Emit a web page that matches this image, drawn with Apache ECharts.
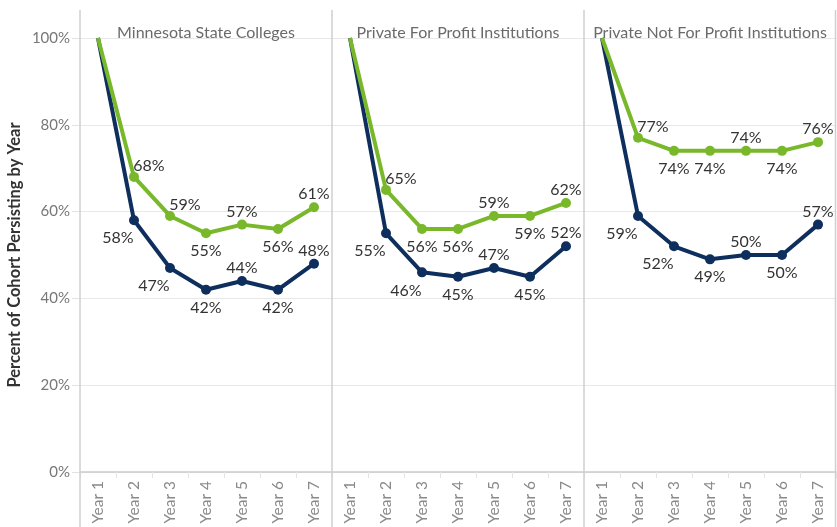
<!DOCTYPE html>
<html>
<head>
<meta charset="utf-8">
<script src="https://cdn.jsdelivr.net/npm/echarts@6/dist/echarts.min.js"></script>
<style>
  html, body { margin: 0; padding: 0; background: #fff; }
  #chart { width: 837px; height: 527px; }
</style>
</head>
<body>
<div id="chart"></div>
<script>
// Cohort persistence by year, three institution types side by side
const years = ['Year 1', 'Year 2', 'Year 3', 'Year 4', 'Year 5', 'Year 6', 'Year 7'];
const panelTitles = ['Minnesota State Colleges', 'Private For Profit Institutions', 'Private Not For Profit Institutions'];
const greenValues = [
  [100, 68, 59, 55, 57, 56, 61],
  [100, 65, 56, 56, 59, 59, 62],
  [100, 77, 74, 74, 74, 74, 76]
];
const navyValues = [
  [100, 58, 47, 42, 44, 42, 48],
  [100, 55, 46, 45, 47, 45, 52],
  [100, 59, 52, 49, 50, 50, 57]
];
const yTicks = [0, 20, 40, 60, 80, 100];

// label placement per point (t = above, b = below, tr = above right, bl = below left)
const greenPlace = [
  ['', 'tr', 'tr', 'b', 't', 'b', 't'],
  ['', 'tr', 'b', 'b', 't', 'b', 't'],
  ['', 'tr', 'b', 'b', 't', 'b', 't']
];
const navyPlace = [
  ['', 'bl', 'bl', 'b', 't', 'b', 't'],
  ['', 'bl', 'bl', 'b', 't', 'b', 't'],
  ['', 'bl', 'bl', 'b', 't', 'b', 't']
];
const offsets = { t: [0, -13], b: [0, 18], tr: [15, -11], bl: [-16, 18] };

const GREEN = '#78b82a';
const NAVY = '#0e2f5e';
const FONT = 'Lato, "Open Sans", sans-serif';

const plotLeft = 80, plotTop = 38, plotHeight = 434, panelW = 252;

const grids = [], xAxes = [], yAxes = [], series = [], graphics = [];

function pointData(values, place) {
  return values.map((v, i) => {
    if (i === 0) {
      return { value: v, symbolSize: 0, label: { show: false } };
    }
    return {
      value: v,
      label: { show: true, position: 'inside', offset: offsets[place[i]] }
    };
  });
}

panelTitles.forEach((title, p) => {
  const left = plotLeft + p * panelW;
  grids.push({ left: left, top: plotTop, width: panelW, height: plotHeight, containLabel: false });
  xAxes.push({
    type: 'category',
    gridIndex: p,
    data: years,
    boundaryGap: true,
    axisLine: { show: true, lineStyle: { color: '#cccccc', width: 1.5 } },
    axisTick: { show: true, interval: 0, length: 6, lineStyle: { color: '#e4e4e4' } },
    axisLabel: { rotate: 90, margin: 9, color: '#8a8a8a', fontSize: 15.5, fontFamily: FONT, interval: 0 }
  });
  yAxes.push({
    type: 'value',
    gridIndex: p,
    min: yTicks[0],
    max: yTicks[yTicks.length - 1],
    interval: yTicks[1] - yTicks[0],
    name: p === 0 ? 'Percent of Cohort Persisting by Year' : '',
    nameLocation: 'middle',
    nameGap: 57,
    nameTextStyle: { fontFamily: FONT, fontSize: 16.5, fontWeight: 'bold', color: '#333333' },
    axisLine: { show: false },
    axisTick: { show: p === 0, length: 8, lineStyle: { color: '#e2e2e2' } },
    axisLabel: {
      show: p === 0, margin: 10, color: '#777777', fontSize: 15, fontFamily: FONT,
      formatter: v => v + '%'
    },
    splitLine: { show: true, lineStyle: { color: '#e8e8e8', width: 1 } }
  });

  const common = {
    type: 'line',
    xAxisIndex: p,
    yAxisIndex: p,
    symbol: 'circle',
    symbolSize: 10,
    lineStyle: { width: 4 },
    clip: false,
    animation: false,
    label: {
      color: '#333333', fontSize: 16, fontFamily: FONT,
      formatter: d => d.value + '%', align: 'center', verticalAlign: 'middle'
    }
  };
  series.push(Object.assign({}, common, {
    name: 'Cohort B ' + (p + 1),
    data: pointData(navyValues[p], navyPlace[p]),
    itemStyle: { color: NAVY },
    lineStyle: { width: 4, color: NAVY }
  }));
  series.push(Object.assign({}, common, {
    name: 'Cohort A ' + (p + 1),
    data: pointData(greenValues[p], greenPlace[p]),
    itemStyle: { color: GREEN },
    lineStyle: { width: 4, color: GREEN }
  }));

  graphics.push({
    type: 'text',
    z: 10,
    style: {
      text: title, x: left + panelW / 2, y: 41,
      align: 'center', verticalAlign: 'bottom',
      font: '16px ' + FONT, fill: '#6a6a6a'
    }
  });
});

// panel separators
for (let i = 0; i <= panelTitles.length; i++) {
  const x = Math.min(plotLeft + i * panelW, 835.5);
  graphics.push({
    type: 'line',
    z: 5,
    shape: { x1: x, y1: 10, x2: x, y2: 527 },
    style: { stroke: '#cfcfcf', lineWidth: 1.5 }
  });
}

const chart = echarts.init(document.getElementById('chart'), null, { renderer: 'canvas' });
chart.setOption({
  backgroundColor: '#ffffff',
  animation: false,
  grid: grids,
  xAxis: xAxes,
  yAxis: yAxes,
  series: series,
  graphic: graphics
});
</script>
</body>
</html>
